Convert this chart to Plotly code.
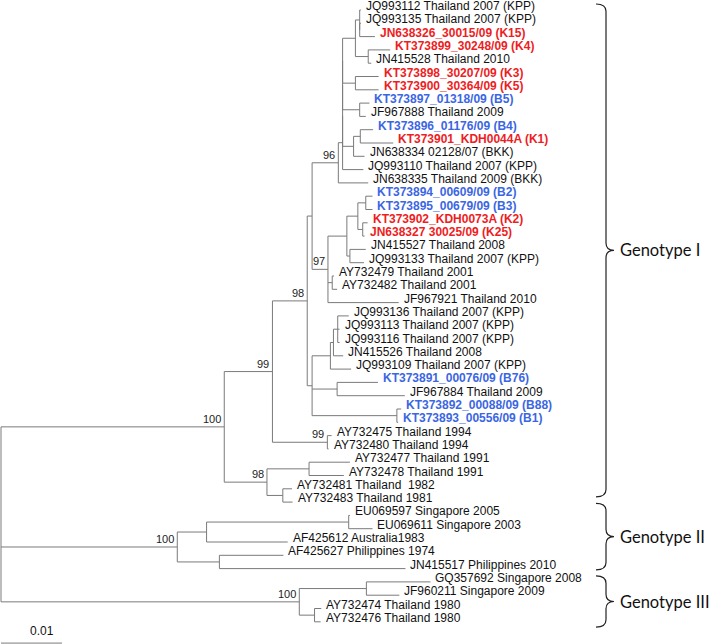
import plotly.graph_objects as go

# ---------------- data ----------------
# tree edges in pre-order: child, parent, branch length (substitutions/site)
edge_child = [
    "G1", "N99", "N98", "H", "N96", "X4", "X3", "X2", "X1", "B", "A",
    "JQ993112 Thailand 2007 (KPP)", "A2", "JQ993135 Thailand 2007 (KPP)", "JN638326_30015/09 (K15)",
    "C", "KT373899_30248/09 (K4)", "JN415528 Thailand 2010",
    "E", "KT373898_30207/09 (K3)", "KT373900_30364/09 (K5)",
    "F", "KT373897_01318/09 (B5)", "JF967888 Thailand 2009",
    "G", "Gs", "KT373896_01176/09 (B4)", "KT373901_KDH0044A (K1)", "JN638334 02128/07 (BKK)",
    "JQ993110 Thailand 2007 (KPP)", "JN638335 Thailand 2009 (BKK)",
    "N97", "I", "J", "J1", "KT373894_00609/09 (B2)", "KT373895_00679/09 (B3)",
    "J2", "KT373902_KDH0073A (K2)", "JN638327 30025/09 (K25)",
    "K", "JN415527 Thailand 2008", "JQ993133 Thailand 2007 (KPP)",
    "AYp", "AY732479 Thailand 2001", "AY732482 Thailand 2001", "JF967921 Thailand 2010",
    "L", "KPP", "M", "M1", "JQ993136 Thailand 2007 (KPP)", "JQ993113 Thailand 2007 (KPP)",
    "JQ993116 Thailand 2007 (KPP)", "JN415526 Thailand 2008", "JQ993109 Thailand 2007 (KPP)",
    "N", "KT373891_00076/09 (B76)", "JF967884 Thailand 2009",
    "O", "KT373892_00088/09 (B88)", "KT373893_00556/09 (B1)",
    "AYp99", "AY732475 Thailand 1994", "AY732480 Thailand 1994",
    "N98b", "P", "AY732477 Thailand 1991", "AY732478 Thailand 1991",
    "Q", "AY732481 Thailand  1982", "AY732483 Thailand 1981",
    "G2", "R1", "EU", "EU069597 Singapore 2005", "EU069611 Singapore 2003", "AF425612 Australia1983",
    "R2", "AF425627 Philippines 1974", "JN415517 Philippines 2010",
    "G3", "S", "GQ357692 Singapore 2008", "JF960211 Singapore 2009",
    "T", "AY732474 Thailand 1980", "AY732476 Thailand 1980",
]
edge_parent = [
    "root", "G1", "N99", "N98", "H", "N96", "X4", "X3", "X2", "X1", "B",
    "A", "A", "A2", "A2",
    "B", "C", "C",
    "X1", "E", "E",
    "X2", "F", "F",
    "X3", "G", "Gs", "Gs", "G",
    "X4", "N96",
    "H", "N97", "I", "J", "J1", "J1",
    "J", "J2", "J2",
    "I", "K", "K",
    "N97", "AYp", "AYp", "N97",
    "N98", "L", "KPP", "M", "M1", "M1",
    "M1", "M", "KPP",
    "L", "N", "N",
    "L", "O", "O",
    "N99", "AYp99", "AYp99",
    "G1", "N98b", "P", "P",
    "N98b", "Q", "Q",
    "root", "G2", "R1", "EU", "EU", "R1",
    "G2", "R2", "R2",
    "root", "G3", "S", "S",
    "G3", "T", "T",
]
edge_length = [
    0.0366, 0.0079, 0.0057, 0.0008, 0.0043, 0.0007, 0.0, 0.0, 0.0, 0.0021, 0.0007,
    0.0002, 0.0, 0.0002, 0.0025,
    0.0021, 0.0036, 0.0005,
    0.0021, 0.0038, 0.0038,
    0.0028, 0.0016, 0.0010,
    0.0018, 0.0011, 0.0021, 0.0054, 0.0018,
    0.0034, 0.0049,
    0.0026, 0.0031, 0.0018, 0.0013, 0.0011, 0.0011,
    0.0008, 0.0008, 0.0003,
    0.0005, 0.0026, 0.0023,
    0.0007, 0.0003, 0.0008, 0.0116,
    0.0008, 0.0030, 0.0005, 0.0007, 0.0018, 0.0003,
    0.0003, 0.0016, 0.0034,
    0.0041, 0.0067, 0.0111,
    0.0139, 0.0007, 0.0002,
    0.0090, 0.0007, 0.0002,
    0.0070, 0.0069, 0.0067, 0.0057,
    0.0026, 0.0015, 0.0016,
    0.0289, 0.0048, 0.0233, 0.0002, 0.0039, 0.0133,
    0.0069, 0.0105, 0.0305,
    0.0489, 0.0110, 0.0105, 0.0054,
    0.0025, 0.0011, 0.0010,
]

bootstrap_nodes = ["G1", "N99", "N98", "N96", "N97", "AYp99", "N98b", "G2", "G3"]
bootstrap_values = [100, 99, 98, 96, 97, 99, 98, 100, 100]

red_taxa = ["JN638326_30015/09 (K15)", "KT373899_30248/09 (K4)", "KT373898_30207/09 (K3)",
            "KT373900_30364/09 (K5)", "KT373901_KDH0044A (K1)", "KT373902_KDH0073A (K2)",
            "JN638327 30025/09 (K25)"]
blue_taxa = ["KT373897_01318/09 (B5)", "KT373896_01176/09 (B4)", "KT373894_00609/09 (B2)",
             "KT373895_00679/09 (B3)", "KT373891_00076/09 (B76)", "KT373892_00088/09 (B88)",
             "KT373893_00556/09 (B1)"]

genotype_names = ["Genotype I", "Genotype II", "Genotype III"]
genotype_first = ["JQ993112 Thailand 2007 (KPP)", "EU069597 Singapore 2005", "GQ357692 Singapore 2008"]
genotype_last = ["AY732483 Thailand 1981", "JN415517 Philippines 2010", "AY732476 Thailand 1980"]

scale_value = 0.01

# ---------------- layout of the tree ----------------
children = {}
parent_of = {}
length_of = {}
for c, p, l in zip(edge_child, edge_parent, edge_length):
    children.setdefault(p, []).append(c)
    parent_of[c] = p
    length_of[c] = l

depth = {"root": 0.0}
for c in edge_child:  # pre-order, parents come first
    depth[c] = depth[parent_of[c]] + length_of[c]

leaves = []
def collect(n):
    if n in children:
        for ch in children[n]:
            collect(ch)
    else:
        leaves.append(n)
collect("root")

ypos = {}
for i, name in enumerate(leaves):
    ypos[name] = i + 1

def place(n):
    if n in children:
        for ch in children[n]:
            place(ch)
        ypos[n] = (ypos[children[n][0]] + ypos[children[n][-1]]) / 2.0
place("root")

LINE = "#7a7a7a"
xs, ys = [], []
for c in edge_child:
    p = parent_of[c]
    xs += [depth[p], depth[c], None]
    ys += [ypos[c], ypos[c], None]
for n, chs in children.items():
    xs += [depth[n], depth[n], None]
    ys += [ypos[chs[0]], ypos[chs[-1]], None]

fig = go.Figure()
fig.add_trace(go.Scatter(x=xs, y=ys, mode="lines", line=dict(color=LINE, width=1),
                         hoverinfo="skip", showlegend=False))

annotations = []
for name in leaves:
    if name in red_taxa:
        col = "#ee1d23"
        txt = "<b>" + name + "</b>"
    elif name in blue_taxa:
        col = "#3b66e3"
        txt = "<b>" + name + "</b>"
    else:
        col = "#111111"
        txt = name
    annotations.append(dict(x=depth[name], y=ypos[name], text=txt, showarrow=False,
                            xanchor="left", yanchor="middle", xshift=3, yshift=4,
                            font=dict(family="Liberation Sans", size=12, color=col)))

for n, v in zip(bootstrap_nodes, bootstrap_values):
    annotations.append(dict(x=depth[n], y=ypos[n], text=str(v), showarrow=False,
                            xanchor="right", yanchor="bottom", xshift=-1, yshift=0,
                            font=dict(family="Liberation Sans", size=11, color="#222222")))

# scale bar
bar_y = len(leaves) + 1.6
fig.add_trace(go.Scatter(x=[0, scale_value], y=[bar_y, bar_y], mode="lines",
                         line=dict(color=LINE, width=1), hoverinfo="skip", showlegend=False))
annotations.append(dict(x=scale_value * 0.67, y=bar_y, text=str(scale_value), showarrow=False,
                        xanchor="center", yanchor="bottom", yshift=3,
                        font=dict(family="Liberation Sans", size=12, color="#111111")))

# genotype braces
PX = 6100.0  # pixels per substitution unit
def px2x(p):
    return (p - 1) / PX
bx0, bxm, bxt = px2x(596), px2x(606), px2x(614)
brace_pad_top = [0.45, 0.9, 0.45]
brace_pad_bottom = [-0.4, 0.1, 0.4]
shapes = []
for nm, f, l, pt, pb in zip(genotype_names, genotype_first, genotype_last,
                            brace_pad_top, brace_pad_bottom):
    y0 = ypos[f] - pt
    y1 = ypos[l] + pb
    ym = (y0 + y1) / 2
    r = 0.55
    path = (f"M {bx0},{y0} Q {bxm},{y0} {bxm},{y0 + r} L {bxm},{ym - r} "
            f"Q {bxm},{ym} {bxt},{ym} Q {bxm},{ym} {bxm},{ym + r} "
            f"L {bxm},{y1 - r} Q {bxm},{y1} {bx0},{y1}")
    shapes.append(dict(type="path", path=path, xref="x", yref="y",
                       line=dict(color="#222222", width=1.2)))
    annotations.append(dict(x=bxt, y=ym, text=nm, showarrow=False, xanchor="left",
                            yanchor="middle", xshift=4,
                            font=dict(family="Lato", size=16.5, color="#111111")))

row_px = 13.3
top = 1 - 10 / row_px
bottom = 1 + (644 - 10) / row_px

fig.update_layout(
    width=709, height=644,
    margin=dict(l=0, r=0, t=0, b=0),
    paper_bgcolor="white", plot_bgcolor="white",
    xaxis=dict(range=[px2x(0), px2x(709)], visible=False, fixedrange=True),
    yaxis=dict(range=[bottom, top], visible=False, fixedrange=True),
    annotations=annotations, shapes=shapes,
    showlegend=False,
)
fig.write_html("out.html", config={"displayModeBar": False},
               post_script="document.body.style.margin='0px';document.body.style.overflow='hidden';")
